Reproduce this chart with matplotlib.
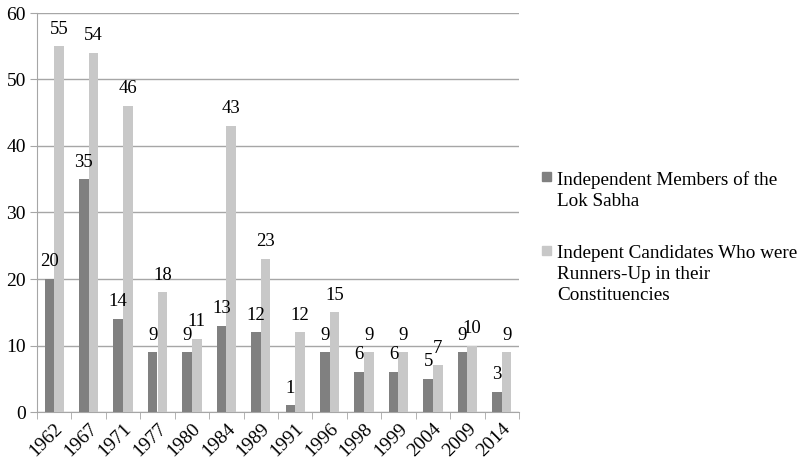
import matplotlib
matplotlib.use("Agg")
import matplotlib.pyplot as plt
from matplotlib.patches import Rectangle
import numpy as np

plt.rcParams['font.family'] = ['Liberation Serif', 'DejaVu Serif']

years = ["1962", "1967", "1971", "1977", "1980", "1984", "1989", "1991",
         "1996", "1998", "1999", "2004", "2009", "2014"]
members = [20, 35, 14, 9, 9, 13, 12, 1, 9, 6, 6, 5, 9, 3]
runners_up = [55, 54, 46, 18, 11, 43, 23, 12, 15, 9, 9, 7, 10, 9]
series_names = ["Independent Members of the\nLok Sabha",
                "Indepent Candidates Who were\nRunners-Up in their\nConstituencies"]

dark = "#808080"
light = "#c8c8c8"
grid_c = "#a6a6a6"
FS = 14

W, H = 804, 461
fig = plt.figure(figsize=(W/100, H/100), dpi=100)
ax = fig.add_axes([37/W, 1 - 412/H, 482/W, 399/H])

x = np.arange(len(years))
w = 0.28
b1 = ax.bar(x - w/2, members, w, color=dark, zorder=3)
b2 = ax.bar(x + w/2, runners_up, w, color=light, zorder=3)

for bars, vals in ((b1, members), (b2, runners_up)):
    for r, v in zip(bars, vals):
        ax.text(r.get_x() + r.get_width()/2, v + 1.3, str(v),
                ha='center', va='bottom', fontsize=13.5, zorder=4)

ax.set_xlim(-0.5, len(years) - 0.5)
ax.set_ylim(0, 60)
ax.set_yticks(range(0, 61, 10))
ax.yaxis.grid(True, color=grid_c, linewidth=1)
ax.set_axisbelow(True)
for s in ("top", "right"):
    ax.spines[s].set_visible(False)
ax.spines["left"].set_color(grid_c)
ax.spines["bottom"].set_color(grid_c)

ax.set_xticks(x)
ax.set_xticklabels(years, rotation=45, ha='right', va='top',
                   rotation_mode='anchor', fontsize=FS)
ax.tick_params(axis='x', length=0, pad=6)
ax.set_xticks(np.arange(-0.5, len(years)), minor=True)
ax.tick_params(axis='x', which='minor', length=5, color=grid_c)
ax.tick_params(axis='y', length=5, color=grid_c, labelsize=FS, pad=3)

# legend: square key aligned with the first line of each label
legend_rows = [(series_names[0], dark, 172), (series_names[1], light, 246)]
for label, col, ytop in legend_rows:
    fig.patches.append(Rectangle((542/W, 1 - (ytop + 9)/H), 9/W, 9/H,
                                 transform=fig.transFigure, color=col,
                                 figure=fig))
    fig.text(557/W, 1 - (ytop - 1)/H, label, ha='left', va='top',
             fontsize=13.8, linespacing=1.32)

fig.savefig("out.png", dpi=100)
